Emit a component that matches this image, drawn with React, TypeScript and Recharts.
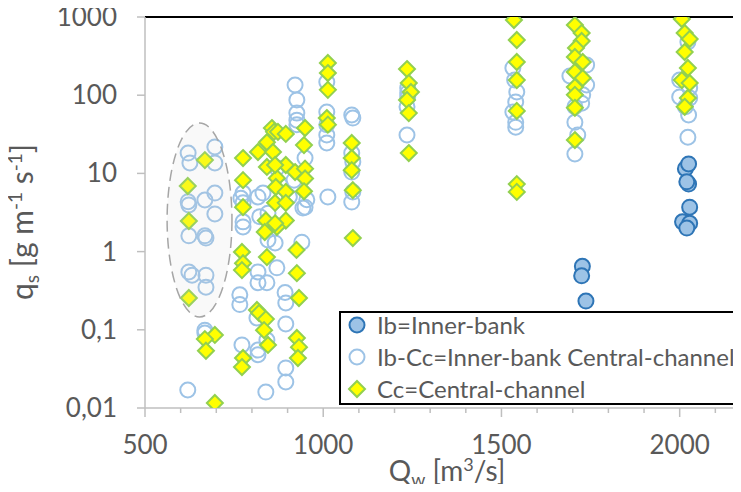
import React from 'react';
import { ScatterChart, Scatter, XAxis, YAxis, ReferenceLine, ReferenceArea, Legend, Label } from 'recharts';

const FONT = 'Lato, "Noto Sans", sans-serif';
const TEXT = '#595959';
const AXIS = '#bfbfbf';

// ---- ticks ----
const xTicks = [500, 600, 700, 800, 900, 1000, 1100, 1200, 1300, 1400, 1500, 1600, 1700, 1800, 1900, 2000, 2100];
const xMajor = [500, 1000, 1500, 2000];
const yTicks = [0.01, 0.1, 1, 10, 100, 1000];
const yTickLabels = ['0,01', '0,1', '1', '10', '100', '1000'];

// ---- legend labels ----
const seriesNames = ['Ib=Inner-bank', 'Ib-Cc=Inner-bank Central-channel', 'Cc=Central-channel'];

// ---- data: [Qw (m3/s), qs (g m-1 s-1)] ----
const ibValues: number[][] = [
  [1727, 0.65], [1725, 0.49], [1737, 0.233],
  [2016, 11.5], [2025, 13.2], [2025, 7.3], [2020, 7.8], [2028, 3.7],
  [2008, 2.4], [2028, 2.3], [2020, 2.0],
];

const ibCcValues: number[][] = [
  // ~620-700
  [621, 18.2], [626, 13.6], [696, 21.8], [696, 13.6], [621, 4.35], [623, 3.95], [668, 4.57],
  [696, 5.6], [696, 3.03], [623, 1.59], [668, 1.59], [671, 1.49], [623, 0.55], [632, 0.5],
  [671, 0.5], [671, 0.35], [668, 0.099], [668, 0.091], [620, 0.017],
  // ~770-950
  [921, 135], [926, 87], [926, 59], [926, 48], [926, 42], [949, 15.7], [949, 3.7],
  [775, 5.6], [769, 4.8], [775, 4.2], [775, 2.4], [775, 2.07], [817, 5.0], [831, 5.6],
  [822, 2.8], [845, 1.41], [865, 1.29], [870, 11.7], [918, 8.2], [954, 4.6], [943, 3.6],
  [940, 1.32], [845, 3.1], [880, 7.0], [905, 5.0],
  [766, 0.28], [766, 0.21], [817, 0.55], [817, 0.4], [842, 0.4], [870, 0.62], [893, 0.3],
  [895, 0.22], [895, 0.119], [814, 0.142], [772, 0.064], [817, 0.055], [817, 0.048],
  [842, 0.074], [895, 0.0325], [895, 0.0215], [839, 0.016],
  // ~1010
  [1010, 147], [1010, 61], [1010, 42], [1010, 31], [1010, 24.5], [1013, 5.0],
  // ~1080
  [1080, 56], [1083, 51], [1080, 18.2], [1083, 14.0], [1080, 10.4], [1083, 5.8], [1080, 4.3],
  // ~1240
  [1237, 124], [1237, 107], [1237, 95], [1235, 71], [1235, 31],
  // ~1540
  [1532, 223], [1537, 156], [1543, 110], [1540, 82], [1532, 61], [1540, 45], [1540, 39],
  // ~1710
  [1692, 176], [1739, 243], [1739, 135], [1728, 101], [1725, 79], [1706, 71], [1706, 45],
  [1714, 31], [1706, 17.7],
  // ~2010
  [2023, 479], [2000, 156], [2000, 95], [2028, 124], [2028, 92], [2016, 71], [2025, 56], [2023, 29],
];

const ccValues: number[][] = [
  // ~620-700
  [668, 14.8], [620, 6.9], [623, 2.46], [623, 0.255], [696, 0.086], [668, 0.076], [671, 0.054], [696, 0.0116],
  // ~770-950
  [775, 15.7], [775, 8.2], [775, 3.7], [817, 18.8], [842, 25], [856, 38], [862, 34], [873, 34],
  [895, 32], [859, 18.8], [842, 12.1], [870, 8.7], [895, 12.8], [867, 6.7], [895, 5.8],
  [865, 4.2], [895, 4.2], [839, 2.5], [836, 1.78], [895, 2.5], [870, 2.07], [949, 38],
  [946, 23], [921, 10.4], [865, 12.8], [865, 2.3], [949, 11.5], [949, 8.6], [946, 5.9],
  [772, 0.99], [775, 0.71], [772, 0.58], [842, 0.85], [814, 0.179], [820, 0.164], [839, 0.137],
  [834, 0.099], [845, 0.064], [775, 0.0436], [772, 0.0334], [926, 0.53], [932, 0.255],
  [926, 0.0785], [932, 0.06], [929, 0.0436], [925, 1.05],
  // ~1010
  [1013, 258], [1013, 192], [1013, 117], [1010, 51], [1013, 42],
  // ~1080
  [1080, 24.5], [1080, 15.7], [1080, 11.0], [1083, 6.1], [1083, 1.49],
  // ~1240
  [1235, 216], [1240, 143], [1246, 110], [1235, 87], [1240, 59], [1240, 18.2],
  // ~1540
  [1535, 916], [1543, 508], [1543, 266], [1543, 156], [1543, 63], [1543, 7.3], [1543, 5.8],
  // ~1710
  [1706, 790], [1725, 624], [1725, 493], [1709, 402], [1706, 308], [1728, 266], [1706, 198],
  [1728, 166], [1706, 127], [1706, 101], [1706, 69], [1706, 26.7],
  // ~2010
  [2006, 943], [2014, 624], [2028, 523], [2014, 357], [2023, 223], [2006, 156], [2028, 143],
  [2023, 92], [2014, 71],
];

// ellipse marking the low-discharge group: [Q1, Q2, qs1, qs2]
const ellipseBounds = [562, 744, 0.146, 44];

const toPts = (arr: number[][]) => arr.map(([Q, qs]) => ({ Q, qs }));
const ibData = toPts(ibValues);
const ibCcData = toPts(ibCcValues);
const ccData = toPts(ccValues);

const IbShape = (p: any) => (
  <circle cx={p.cx} cy={p.cy} r={7.5} fill="#9DC3E6" stroke="#2E75B6" strokeWidth={2} />
);
const IbCcShape = (p: any) => (
  <circle cx={p.cx} cy={p.cy} r={7.5} fill="none" stroke="#9DC3E6" strokeWidth={2} />
);
const diamond = (cx: number, cy: number, r: number) =>
  `${cx},${cy - r} ${cx + r},${cy} ${cx},${cy + r} ${cx - r},${cy}`;
const CcShape = (p: any) => (
  <polygon points={diamond(p.cx, p.cy, 8)} fill="#FFFF00" stroke="#92D050" strokeWidth={2} />
);

const XTick = (p: any) => {
  const v = p.payload.value;
  const major = xMajor.includes(v);
  return (
    <g>
      <line x1={p.x} x2={p.x} y1={p.y} y2={p.y + (major ? 9 : 5)} stroke={AXIS} strokeWidth={1.5} />
      {major && (
        <text x={p.x} y={p.y + 46} textAnchor="middle" fill={TEXT} fontSize={26} fontFamily={FONT}>
          {v}
        </text>
      )}
    </g>
  );
};

const YTick = (p: any) => {
  const idx = yTicks.findIndex((t) => Math.abs(t - p.payload.value) < 1e-9);
  return (
    <text x={p.x} y={p.y + 9} textAnchor="end" fill={TEXT} fontSize={26} fontFamily={FONT}>
      {idx >= 0 ? yTickLabels[idx] : ''}
    </text>
  );
};

const XTitle = (p: any) => {
  const vb = p.viewBox;
  const cx = vb.x + vb.width / 2 + 4;
  const y = vb.y + 73;
  return (
    <text x={cx} y={y} textAnchor="middle" fill={TEXT} fontSize={28} fontFamily={FONT}>
      <tspan>Q</tspan>
      <tspan fontSize={18} dy={5}>w</tspan>
      <tspan dy={-5}> [m</tspan>
      <tspan fontSize={18} dy={-10}>3</tspan>
      <tspan dy={10}>/s]</tspan>
    </text>
  );
};

const YTitle = (p: any) => {
  const x = 25;
  const y = 214;
  return (
    <text x={x} y={y} transform={`rotate(-90, ${x}, ${y})`} textAnchor="middle" fill={TEXT} fontSize={30} fontFamily={FONT}>
      <tspan>q</tspan>
      <tspan fontSize={19} dy={6}>s</tspan>
      <tspan dy={-6}> [g m</tspan>
      <tspan fontSize={19} dy={-11}>-1</tspan>
      <tspan dy={11}> s</tspan>
      <tspan fontSize={19} dy={-11}>-1</tspan>
      <tspan dy={11}>]</tspan>
    </text>
  );
};

const LegendBox = () => {
  const rows = [12, 44, 76];
  const mx = 16;
  return (
    <div
      style={{
        position: 'relative',
        width: 402,
        height: 94,
        boxSizing: 'border-box',
        background: '#fff',
        borderTop: '2px solid #000',
        borderLeft: '2px solid #000',
        borderBottom: '2px solid #000',
      }}
    >
      <svg width={400} height={90} style={{ position: 'absolute', left: 0, top: 0, overflow: 'visible' }}>
        <circle cx={mx} cy={rows[0]} r={7.5} fill="#9DC3E6" stroke="#2E75B6" strokeWidth={2} />
        <circle cx={mx} cy={rows[1]} r={7.5} fill="none" stroke="#9DC3E6" strokeWidth={2} />
        <polygon points={diamond(mx, rows[2], 8)} fill="#FFFF00" stroke="#92D050" strokeWidth={2} />
        {seriesNames.map((n, i) => (
          <text key={n} x={36} y={rows[i] + 9} fill={TEXT} fontSize={24} fontFamily={FONT}>
            {n}
          </text>
        ))}
      </svg>
    </div>
  );
};

const EllipseShape = (p: any) => (
  <ellipse
    cx={p.x + p.width / 2}
    cy={p.y + p.height / 2}
    rx={p.width / 2}
    ry={p.height / 2}
    fill="#d0d0d0"
    fillOpacity={0.13}
    stroke="#a6a6a6"
    strokeWidth={1.5}
    strokeDasharray="11 6"
  />
);

export default function App() {
  return (
    <div style={{ width: 733, height: 476 }}>
      <style>{'.recharts-surface{overflow:visible}'}</style>
      <ScatterChart width={733} height={476} margin={{ top: 9, right: 0, bottom: 0, left: 0 }}>
        <XAxis
          type="number"
          dataKey="Q"
          domain={[500, 2172]}
          ticks={xTicks}
          allowDataOverflow
          interval={0}
          height={76}
          axisLine={{ stroke: AXIS, strokeWidth: 1.5 }}
          tickLine={false}
          tickSize={0}
          tickMargin={0}
          tick={<XTick />}
        >
          <Label content={<XTitle />} />
        </XAxis>
        <YAxis
          type="number"
          dataKey="qs"
          scale="log"
          domain={[0.01, 1000]}
          ticks={yTicks}
          allowDataOverflow
          interval={0}
          width={137}
          axisLine={{ stroke: AXIS, strokeWidth: 1.5 }}
          tickLine={{ stroke: AXIS, strokeWidth: 1.5 }}
          tickSize={8}
          tickMargin={20}
          tick={<YTick />}
        >
          <Label content={<YTitle />} />
        </YAxis>
        <ReferenceLine y={1000} stroke="#000" strokeWidth={2} />
        <Scatter name={seriesNames[0]} data={ibData} shape={IbShape} isAnimationActive={false} />
        <Scatter name={seriesNames[1]} data={ibCcData} shape={IbCcShape} isAnimationActive={false} />
        <Scatter name={seriesNames[2]} data={ccData} shape={CcShape} isAnimationActive={false} />
        <ReferenceArea
          x1={ellipseBounds[0]}
          x2={ellipseBounds[1]}
          y1={ellipseBounds[2]}
          y2={ellipseBounds[3]}
          shape={EllipseShape}
          zIndex={2000}
        />
        <Legend
          layout="vertical"
          align="center"
          verticalAlign="middle"
          wrapperStyle={{ left: 331, top: 303, width: 402, height: 94 }}
          content={() => <LegendBox />}
        />
      </ScatterChart>
    </div>
  );
}
